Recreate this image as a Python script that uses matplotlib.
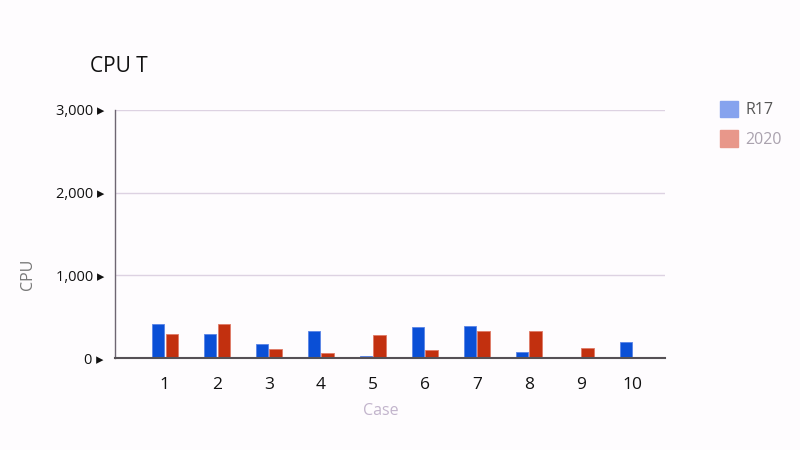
import numpy as np
import matplotlib.pyplot as plt
from matplotlib.patches import Patch

cases = ['1', '2', '3', '4', '5', '6', '7', '8', '9', '10']
r17 = [411, 290, 166, 330, 24, 371, 387, 73, 0, 194]
y2020 = [290, 411, 109, 64, 275, 97, 327, 323, 121, 0]
yticks = [0, 1000, 2000, 3000]

plt.rcParams['font.family'] = ['Open Sans', 'DejaVu Sans']

bg = '#fefcfe'
blue = '#0a4fd6'
red = '#c2300f'

fig = plt.figure(figsize=(8, 4.5), dpi=100, facecolor=bg)
ax = fig.add_axes([0.14375, 0.2044, 0.6875, 0.5512], facecolor=bg)

x = np.arange(1, len(cases) + 1)
w = 0.235
ax.bar(x - w / 2 - 0.012, r17, width=w, color=blue, edgecolor='#5a84e6', linewidth=0.6, zorder=3)
ax.bar(x + w / 2 + 0.012, y2020, width=w, color=red, edgecolor='#e07a66', linewidth=0.6, zorder=3)

ax.set_xlim(0.04, 10.62)
ax.set_ylim(0, 3000)
ax.set_yticks(yticks)
ax.set_yticklabels([f'{v:,} \u25b8' for v in yticks], fontsize=10.5, color='#111111',
                   family=['Open Sans', 'DejaVu Sans'])
ax.set_xticks(x)
ax.set_xticklabels(cases, fontsize=12.5, color='#111111')
ax.tick_params(axis='y', length=0, pad=8)
ax.tick_params(axis='x', length=0, pad=14)

ax.grid(axis='y', color='#ddd2e2', linewidth=1, zorder=0)
for s in ['top', 'right']:
    ax.spines[s].set_visible(False)
ax.spines['left'].set_color('#6e6672')
ax.spines['left'].set_linewidth(1)
ax.spines['bottom'].set_color('#555055')
ax.spines['bottom'].set_linewidth(1.5)
ax.spines['bottom'].set_zorder(4)

fig.text(0.113, 0.84, 'CPU T', fontsize=15, color='#111111')
fig.text(0.035, 0.39, 'CPU', fontsize=11.5, color='#777777', rotation=90,
         ha='center', va='center')
fig.text(0.476, 0.087, 'Case', fontsize=11.5, color='#c2b4cc', ha='center', va='center')

handles = [Patch(facecolor='#86a3ee', edgecolor='#86a3ee'),
           Patch(facecolor='#e8978a', edgecolor='#e8978a')]
leg = fig.legend(handles, ['R17', '2020'], loc='upper left', bbox_to_anchor=(0.892, 0.79),
                 frameon=False, fontsize=11.5, handlelength=1.1, handleheight=1.2,
                 handletextpad=0.5, labelspacing=0.75, borderaxespad=0)
leg.get_texts()[0].set_color('#555555')
leg.get_texts()[1].set_color('#aaa2ae')

fig.savefig('out.png', dpi=100, facecolor=bg)
